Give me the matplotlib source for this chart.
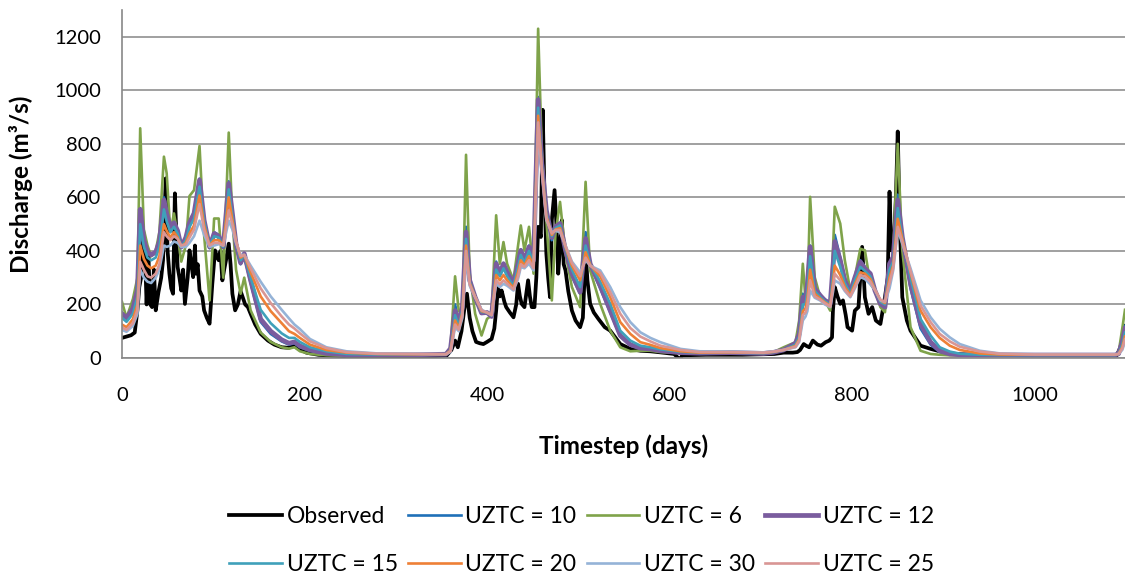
import matplotlib
matplotlib.use("Agg")
import matplotlib.pyplot as plt

plt.rcParams['font.family'] = ['Lato', 'DejaVu Sans']

# ---- data (day, discharge m3/s) ----
obs_days = [0, 5, 10, 14, 17, 19, 21, 23, 25, 27, 29, 31, 33, 35, 37, 40, 43, 45, 48, 50,
            52, 54, 56, 58, 60, 61, 63, 65, 67, 69, 72, 74, 76, 78, 80, 81, 83, 85, 88, 90,
            93, 96, 99, 102, 104, 106, 108, 110, 112, 114, 117, 119, 121, 124, 127, 130, 132, 135, 138, 141,
            146, 152, 160, 167, 175, 183, 188, 192, 202, 215, 224, 250, 300, 340, 356, 361, 365, 368, 372, 375,
            378, 381, 384, 388, 392, 396, 400, 405, 408, 410, 412, 414, 416, 419, 421, 425, 429, 432, 434, 436,
            438, 441, 443, 445, 447, 449, 452, 454, 456, 459, 461, 463, 465, 467, 469, 471, 474, 476, 478, 480,
            482, 484, 486, 489, 493, 497, 502, 505, 508, 510, 513, 517, 522, 529, 535, 546, 557, 568, 579, 590,
            605, 611, 614, 640, 680, 715, 725, 735, 740, 743, 747, 750, 753, 757, 762, 766, 771, 775, 778, 779,
            781, 784, 787, 790, 793, 795, 800, 803, 807, 811, 814, 818, 822, 826, 831, 836, 839, 841, 843, 846,
            848, 850, 852, 855, 860, 864, 875, 886, 896, 907, 930, 1000, 1090, 1094, 1099]
obs_q = [75, 80, 85, 95, 180, 265, 300, 478, 420, 200, 380, 200, 190, 330, 178, 246, 300, 365, 671, 400,
         315, 260, 240, 615, 420, 340, 300, 252, 330, 202, 300, 402, 350, 302, 420, 315, 350, 252, 230, 178,
         150, 128, 277, 402, 380, 365, 400, 290, 330, 365, 427, 350, 240, 178, 200, 250, 230, 200, 190, 165,
         125, 90, 65, 50, 40, 38, 50, 38, 20, 12, 10, 6, 5, 6, 10, 30, 65, 40, 100, 180,
         240, 150, 100, 60, 55, 52, 60, 71, 110, 177, 265, 230, 252, 210, 190, 170, 152, 200, 277, 230,
         202, 190, 240, 290, 230, 190, 190, 300, 490, 452, 927, 600, 390, 300, 227, 515, 627, 500, 315, 420,
         515, 350, 327, 250, 177, 140, 115, 150, 400, 290, 202, 170, 146, 115, 102, 52, 34, 27, 25, 21,
         15, -5, 10, 12, 12, 15, 20, 20, 22, 30, 52, 45, 40, 65, 50, 46, 59, 65, 77, 177,
         265, 230, 202, 215, 160, 115, 102, 177, 190, 415, 227, 165, 190, 140, 127, 227, 300, 621, 402, 440,
         600, 846, 527, 227, 140, 102, 46, 34, 25, 17, 12, 10, 10, 40, 120]

sim_days = [0, 5, 12, 17, 20, 24, 28, 32, 37, 41, 46, 49, 53, 57, 61, 65, 70, 74, 79, 85,
            90, 96, 101, 106, 111, 117, 121, 125, 130, 134, 141, 152, 163, 175, 183, 189, 195, 206, 224, 246,
            280, 320, 355, 360, 365, 369, 373, 377, 381, 387, 394, 400, 405, 410, 414, 418, 422, 429, 434, 437,
            441, 446, 451, 456, 460, 465, 471, 475, 480, 486, 493, 502, 508, 513, 524, 535, 546, 557, 568, 579,
            590, 612, 633, 666, 703, 714, 725, 738, 742, 746, 749, 751, 754, 759, 765, 770, 776, 779, 781, 787,
            792, 798, 803, 809, 814, 820, 825, 831, 836, 841, 845, 850, 855, 864, 875, 886, 896, 907, 918, 940,
            962, 1000, 1040, 1088, 1092, 1096, 1099]

uztc6 = [210, 150, 220, 300, 858, 480, 420, 380, 400, 470, 752, 690, 470, 540, 460, 360, 420, 605, 627, 792,
         460, 215, 521, 521, 300, 842, 520, 330, 240, 300, 178, 95, 60, 40, 35, 40, 25, 15, 10, 8,
         8, 10, 15, 40, 305, 177, 160, 759, 315, 165, 84, 146, 159, 533, 352, 433, 352, 290, 420, 495,
         402, 490, 315, 1230, 777, 515, 215, 465, 583, 390, 265, 190, 658, 327, 202, 102, 40, 25, 27, 27,
         22, 18, 17, 20, 18, 22, 40, 59, 140, 352, 215, 227, 602, 302, 227, 215, 177, 402, 565, 502,
         365, 252, 302, 408, 402, 277, 252, 190, 171, 340, 390, 800, 402, 115, 27, 15, 12, 10, 10, 10,
         10, 10, 10, 10, 20, 110, 180]
uztc10 = [170, 150, 190, 260, 560, 445, 395, 385, 395, 440, 600, 545, 490, 510, 475, 410, 450, 510, 545, 670,
          520, 410, 470, 460, 410, 660, 545, 420, 350, 380, 280, 135, 90, 62, 50, 55, 40, 27, 15, 10,
          10, 11, 14, 35, 200, 140, 190, 490, 295, 225, 165, 170, 155, 360, 315, 355, 320, 275, 360, 405,
          365, 420, 360, 975, 730, 550, 440, 490, 505, 400, 305, 240, 470, 345, 260, 170, 80, 47, 35, 32,
          25, 19, 17, 18, 16, 20, 32, 55, 100, 240, 215, 280, 420, 270, 235, 220, 205, 350, 460, 375,
          300, 245, 300, 365, 340, 310, 255, 200, 185, 350, 380, 610, 440, 260, 110, 50, 22, 13, 11, 10,
          10, 10, 10, 10, 16, 70, 120]
uztc12 = [165, 150, 185, 255, 555, 440, 395, 385, 395, 435, 590, 540, 490, 505, 475, 415, 450, 505, 540, 665,
          515, 415, 465, 455, 415, 652, 540, 425, 355, 390, 290, 145, 100, 68, 55, 60, 45, 30, 17, 12,
          12, 12, 14, 35, 177, 130, 190, 470, 290, 227, 168, 170, 155, 352, 315, 352, 320, 277, 355, 402,
          365, 415, 365, 965, 727, 552, 450, 490, 502, 402, 315, 246, 446, 352, 270, 177, 84, 50, 37, 34,
          27, 20, 18, 20, 17, 21, 30, 55, 90, 227, 215, 277, 415, 260, 234, 215, 202, 340, 435, 365,
          290, 246, 300, 359, 334, 315, 252, 202, 190, 352, 377, 590, 452, 277, 127, 59, 27, 15, 12, 11,
          11, 11, 11, 11, 16, 60, 110]
uztc15 = [150, 135, 165, 230, 500, 415, 375, 365, 375, 415, 555, 510, 470, 490, 465, 415, 440, 490, 520, 640,
          510, 420, 455, 450, 415, 630, 530, 430, 365, 385, 300, 180, 130, 92, 75, 75, 60, 40, 25, 15,
          13, 13, 14, 30, 160, 120, 180, 445, 285, 228, 172, 170, 158, 330, 305, 335, 305, 270, 340, 385,
          355, 400, 355, 935, 720, 540, 455, 485, 495, 410, 330, 265, 420, 350, 285, 202, 102, 65, 46, 40,
          32, 23, 19, 20, 18, 22, 30, 50, 80, 200, 200, 250, 380, 250, 228, 212, 200, 310, 400, 340,
          280, 240, 290, 340, 325, 305, 255, 210, 200, 330, 360, 560, 450, 300, 146, 84, 40, 24, 16, 12,
          11, 11, 11, 11, 15, 50, 95]
uztc20 = [125, 115, 145, 200, 420, 370, 345, 335, 345, 380, 500, 475, 450, 470, 450, 415, 430, 465, 495, 607,
          495, 420, 440, 440, 420, 600, 515, 435, 375, 385, 320, 230, 175, 130, 100, 90, 75, 50, 30, 20,
          15, 14, 14, 28, 140, 110, 170, 420, 280, 228, 175, 170, 160, 310, 290, 310, 290, 262, 320, 365,
          345, 380, 345, 905, 710, 530, 460, 480, 485, 415, 345, 290, 395, 348, 305, 227, 134, 90, 59, 49,
          37, 25, 20, 21, 19, 23, 30, 45, 70, 175, 185, 220, 330, 240, 222, 208, 195, 280, 345, 310,
          265, 235, 275, 320, 315, 295, 255, 215, 205, 300, 345, 520, 445, 320, 177, 115, 75, 46, 30, 17,
          13, 12, 12, 12, 15, 40, 80]
uztc30 = [105, 98, 120, 165, 330, 300, 285, 280, 300, 330, 420, 415, 420, 435, 430, 415, 415, 430, 455, 513,
          460, 415, 420, 425, 420, 513, 480, 430, 385, 385, 345, 285, 230, 180, 148, 125, 108, 71, 40, 25,
          17, 16, 14, 22, 115, 100, 150, 380, 270, 227, 180, 170, 160, 277, 265, 277, 270, 252, 295, 340,
          335, 352, 327, 835, 700, 515, 470, 475, 470, 420, 360, 320, 365, 345, 327, 265, 190, 134, 96, 75,
          59, 34, 25, 24, 21, 25, 30, 40, 60, 140, 155, 175, 252, 225, 215, 200, 190, 245, 290, 277,
          250, 227, 260, 302, 295, 275, 255, 215, 209, 260, 327, 477, 427, 335, 215, 152, 109, 77, 52, 27,
          17, 14, 14, 14, 15, 30, 60]
uztc25 = [115, 105, 130, 180, 360, 330, 305, 300, 315, 350, 470, 455, 440, 455, 445, 420, 425, 450, 480, 575,
          480, 420, 430, 430, 420, 551, 500, 435, 380, 385, 335, 260, 205, 155, 125, 110, 92, 62, 37, 22,
          16, 15, 14, 25, 125, 105, 160, 400, 275, 228, 178, 170, 160, 290, 275, 290, 278, 256, 305, 350,
          340, 365, 335, 880, 705, 520, 465, 478, 478, 418, 355, 305, 375, 345, 318, 246, 165, 112, 80, 62,
          46, 30, 22, 22, 20, 24, 30, 42, 65, 160, 170, 195, 290, 230, 218, 205, 192, 260, 315, 290,
          255, 230, 265, 310, 305, 285, 255, 218, 210, 280, 335, 490, 435, 325, 196, 134, 90, 62, 42, 24,
          16, 13, 13, 13, 15, 35, 70]

series = [
    ('Observed', obs_days, obs_q, '#000000', 2.7),
    ('UZTC = 10', sim_days, uztc10, '#1F70B8', 1.9),
    ('UZTC = 6', sim_days, uztc6, '#7FA34A', 1.9),
    ('UZTC = 12', sim_days, uztc12, '#7A5C9E', 3.4),
    ('UZTC = 15', sim_days, uztc15, '#3FA0BA', 1.9),
    ('UZTC = 20', sim_days, uztc20, '#EE8036', 1.9),
    ('UZTC = 30', sim_days, uztc30, '#95B3D7', 1.9),
    ('UZTC = 25', sim_days, uztc25, '#D99694', 1.9),
]

fig = plt.figure(figsize=(11.25, 5.76), dpi=100)
ax = fig.add_axes([0.1084, 0.3785, 0.8916, 0.6042])

handles = {}
for name, d, q, col, lw in series:
    h, = ax.plot(d, q, color=col, lw=lw, label=name, solid_joinstyle='round')
    handles[name] = h

ax.set_xlim(0, 1099)
ax.set_ylim(0, 1300)
ax.set_yticks(range(0, 1201, 200))
ax.set_xticks(range(0, 1001, 200))
ax.grid(axis='y', color='#A0A0A0', lw=1.4)
ax.set_axisbelow(True)
for s in ['top', 'right']:
    ax.spines[s].set_visible(False)
for s in ['left', 'bottom']:
    ax.spines[s].set_color('#888888')
    ax.spines[s].set_linewidth(1.2)
ax.tick_params(axis='both', length=0, labelsize=14.5, colors='#000000')
ax.tick_params(axis='x', pad=21)
ax.tick_params(axis='y', pad=15)

ax.set_xlabel('Timestep (days)', fontsize=17.5, fontweight='bold', labelpad=22)
ax.set_ylabel('Discharge (m³/s)', fontsize=17.5, fontweight='bold', labelpad=15)

order = ['Observed', 'UZTC = 15', 'UZTC = 10', 'UZTC = 20',
         'UZTC = 6', 'UZTC = 30', 'UZTC = 12', 'UZTC = 25']
fig.legend([handles[n] for n in order], order, loc='center', ncol=4,
           bbox_to_anchor=(0.517, 0.0616), frameon=False, fontsize=16.5,
           handlelength=2.3, handletextpad=0.2, columnspacing=0.45, labelspacing=1.17,
           borderaxespad=0, borderpad=0)

fig.savefig('out.png', dpi=100)
